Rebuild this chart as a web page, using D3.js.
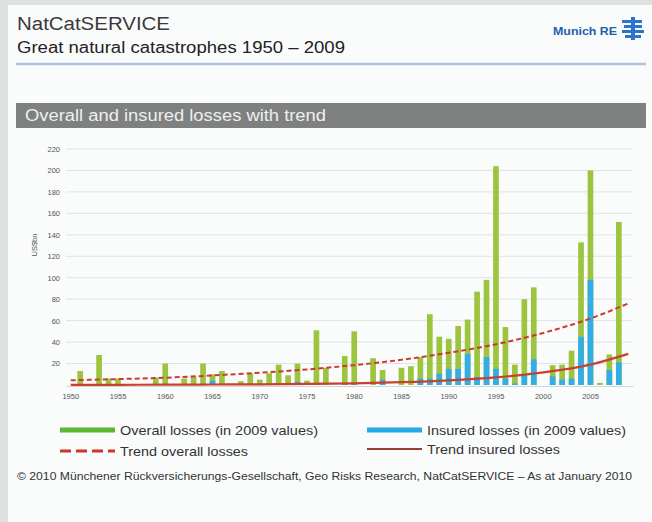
<!DOCTYPE html>
<html>
<head>
<meta charset="utf-8">
<script src="https://cdn.jsdelivr.net/npm/d3@7"></script>
<style>
  html, body { margin: 0; padding: 0; background: #dfe1e0; }
  svg { display: block; font-family: "Liberation Sans", Arial, sans-serif; }
</style>
</head>
<body>
<svg id="chart" width="652" height="522"></svg>
<script>
// Great natural catastrophes, overall and insured losses (US$bn, 2009 values)
const years = [
  1950, 1951, 1952, 1953, 1954, 1955, 1956, 1957, 1958, 1959,
  1960, 1961, 1962, 1963, 1964, 1965, 1966, 1967, 1968, 1969,
  1970, 1971, 1972, 1973, 1974, 1975, 1976, 1977, 1978, 1979,
  1980, 1981, 1982, 1983, 1984, 1985, 1986, 1987, 1988, 1989,
  1990, 1991, 1992, 1993, 1994, 1995, 1996, 1997, 1998, 1999,
  2000, 2001, 2002, 2003, 2004, 2005, 2006, 2007, 2008, 2009
];
const overallLosses = [
  0, 13, 0, 28, 6, 6, 0, 0, 0, 7,
  20, 0, 6, 8, 20, 10, 13, 0, 3.5, 11,
  5, 11, 19, 9, 20, 4, 51, 16, 0, 27,
  50, 0, 25, 14, 0, 16, 17.5, 26, 66, 45,
  43, 55, 61, 87, 98, 204, 54, 19, 80, 91,
  0, 18.5, 19, 32, 133, 200, 2, 28.5, 152, 0
];
const insuredLosses = [
  0, 0, 0, 1, 0, 0, 0, 0, 0, 0,
  0, 0, 0, 0, 1, 4, 0, 0, 0, 1,
  0, 0, 1, 0, 3, 0, 1, 0, 0, 2,
  1, 0, 0, 5, 0, 0, 0, 6, 6, 10.5,
  15, 15, 29, 7.5, 26, 15, 6, 1.5, 9, 24,
  0, 8, 5, 6, 45, 98, 0, 14, 21, 0
];
const trendYears = [1950, 1955, 1960, 1965, 1970, 1975, 1980, 1985, 1990, 1995, 2000, 2005, 2009];
const trendOverall = [4.4, 5.5, 6.8, 8.9, 11.5, 14.5, 18.5, 23.5, 30, 38, 48.5, 62, 76];
const trendInsured = [0.1, 0.2, 0.3, 0.45, 0.6, 1.0, 1.6, 2.6, 4.3, 7.1, 11.7, 19, 29];
const yTicks = [20, 40, 60, 80, 100, 120, 140, 160, 180, 200, 220];
const xTickYears = [1950, 1955, 1960, 1965, 1970, 1975, 1980, 1985, 1990, 1995, 2000, 2005];

const svg = d3.select("#chart");

// stretched text helper: fixed font size and fixed run length
const label = (parent, x, y, size, len, fill, str) => parent.append("text")
  .attr("x", x).attr("y", y).attr("font-size", size).attr("fill", fill)
  .attr("textLength", len).attr("lengthAdjust", "spacingAndGlyphs").text(str);

// page panel
svg.append("rect").attr("x", 8).attr("y", 5).attr("width", 644).attr("height", 517).attr("fill", "#fafbfb");

// header
label(svg, 17, 30, 18, 153, "#3a3a3a", "NatCatSERVICE");
label(svg, 17, 53, 16, 328, "#222", "Great natural catastrophes 1950 – 2009");
svg.append("line").attr("x1", 16).attr("x2", 646).attr("y1", 64).attr("y2", 64)
  .attr("stroke", "#afc0e2").attr("stroke-width", 2.5);

// logo
label(svg, 553, 35, 11.5, 64, "#1d5fae", "Munich RE").attr("font-weight", "bold");
const logo = svg.append("g").attr("fill", "#2f74c9");
[[622, 20, 20, 3], [624, 25, 18, 3], [622, 30, 22, 3], [625, 35, 16, 3]].forEach(r =>
  logo.append("rect").attr("x", r[0]).attr("y", r[1]).attr("width", r[2]).attr("height", r[3]));
logo.append("rect").attr("x", 631).attr("y", 17).attr("width", 4).attr("height", 23);

// section bar
svg.append("rect").attr("x", 16).attr("y", 103).attr("width", 630).attr("height", 25).attr("fill", "#7e817f");
label(svg, 25, 121, 16, 301, "#eef0ef", "Overall and insured losses with trend");

// scales
const x = d3.scaleBand().domain(years).range([66, 633]).paddingInner(0.4).paddingOuter(0.2);
const y = d3.scaleLinear().domain([0, 220]).range([385, 149]);
const xc = yr => x(yr) + x.bandwidth() / 2;

// grid and y labels
const grid = svg.append("g");
grid.selectAll("line").data(yTicks).join("line")
  .attr("x1", 66).attr("x2", 632)
  .attr("y1", d => y(d)).attr("y2", d => y(d))
  .attr("stroke", "#e1e3e3").attr("stroke-width", 1);
const yAxis = svg.append("g").attr("transform", "translate(60,0)")
  .call(d3.axisLeft(y).tickValues(yTicks).tickSize(0).tickPadding(0));
yAxis.select(".domain").remove();
yAxis.selectAll("text").attr("font-size", 7.5).attr("fill", "#555").attr("font-family", "Liberation Sans, Arial, sans-serif");

svg.append("text").attr("transform", "translate(37,245) rotate(-90)").attr("text-anchor", "middle")
  .attr("font-size", 7.5).attr("fill", "#555").text("US$bn");

// x axis
const xAxis = svg.append("g").attr("transform", "translate(0,386)")
  .call(d3.axisBottom(x).tickValues(xTickYears).tickSize(0).tickPadding(8));
xAxis.select(".domain").attr("stroke", "#d4d6d6");
xAxis.selectAll("text").attr("font-size", 7.5).attr("fill", "#555").attr("font-family", "Liberation Sans, Arial, sans-serif");

// bars
svg.append("g").selectAll("rect").data(years).join("rect")
  .attr("x", d => x(d)).attr("width", x.bandwidth())
  .attr("y", (d, i) => y(overallLosses[i]))
  .attr("height", (d, i) => y(0) - y(overallLosses[i]))
  .attr("fill", "#9cc43e");
svg.append("g").selectAll("rect").data(years).join("rect")
  .attr("x", d => x(d)).attr("width", x.bandwidth())
  .attr("y", (d, i) => y(insuredLosses[i]))
  .attr("height", (d, i) => y(0) - y(insuredLosses[i]))
  .attr("fill", "#33ade6");

// trend lines
const trendLine = vals => d3.line()
  .x((d, i) => xc(trendYears[i]))
  .y(d => y(d))
  .curve(d3.curveMonotoneX)(vals);
svg.append("path").attr("d", trendLine(trendInsured)).attr("fill", "none")
  .attr("stroke", "#c9402e").attr("stroke-width", 2.2);
svg.append("path").attr("d", trendLine(trendOverall)).attr("fill", "none")
  .attr("stroke", "#cc3a30").attr("stroke-width", 2).attr("stroke-dasharray", "5,3");

// legend
const legend = svg.append("g");
const items = [
  { x: 60, y: 430, label: "Overall losses (in 2009 values)", len: 198, stroke: "#5fb534", w: 5, dash: null },
  { x: 367, y: 430, label: "Insured losses (in 2009 values)", len: 199, stroke: "#25a9e6", w: 5, dash: null },
  { x: 60, y: 451, label: "Trend overall losses", len: 128, stroke: "#c8372d", w: 3, dash: "11,5" },
  { x: 367, y: 449, label: "Trend insured losses", len: 133, stroke: "#9c3a2e", w: 1.8, dash: null }
];
items.forEach(it => {
  legend.append("line").attr("x1", it.x).attr("x2", it.x + 55).attr("y1", it.y).attr("y2", it.y)
    .attr("stroke", it.stroke).attr("stroke-width", it.w).attr("stroke-dasharray", it.dash);
  label(legend, it.x + 60, it.y + 4.5, 13, it.len, "#333", it.label);
});

// source note
label(svg, 17, 480, 10.5, 615, "#333",
  "© 2010 Münchener Rückversicherungs-Gesellschaft, Geo Risks Research, NatCatSERVICE  –  As at January 2010");
</script>
</body>
</html>
